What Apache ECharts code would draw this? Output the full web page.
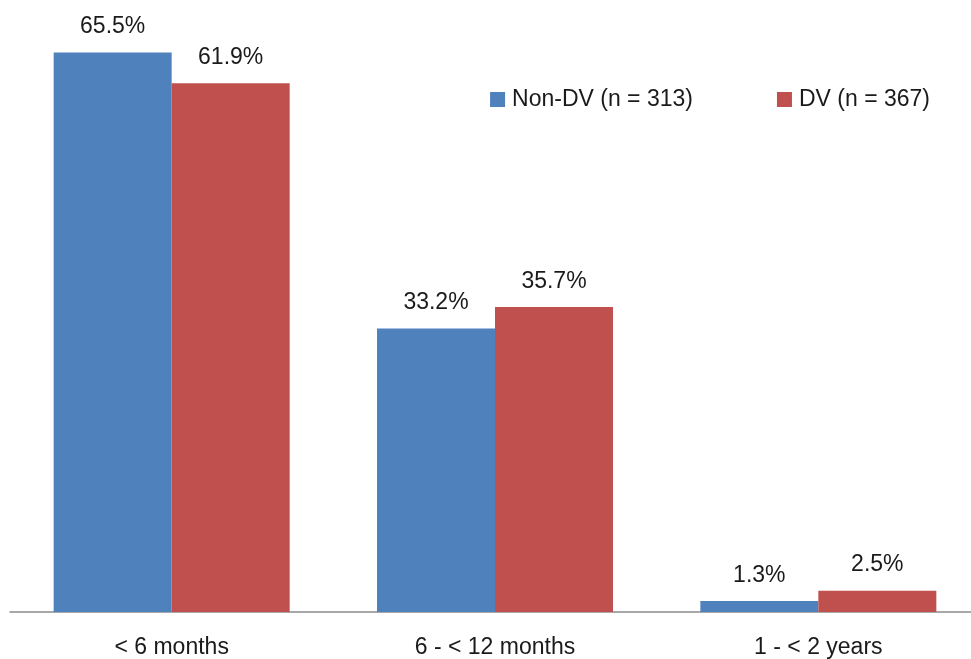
<!DOCTYPE html>
<html><head><meta charset="utf-8">
<script src="https://cdn.jsdelivr.net/npm/echarts@6/dist/echarts.min.js"></script>
<style>html,body{margin:0;padding:0;background:#fff}#c{width:971px;height:659px}</style>
</head><body><div id="c"></div>
<script>
const categories = ['< 6 months', '6 - < 12 months', '1 - < 2 years'];
const nonDV = [65.5, 33.2, 1.3];
const dv = [61.9, 35.7, 2.5];
const seriesNames = ['Non-DV (n = 313)', 'DV (n = 367)'];

const FONT = 'Liberation Sans';
const chart = echarts.init(document.getElementById('c'));
const lbl = {show: true, position: 'top', distance: 14, color: '#1a1a1a', fontFamily: FONT, fontSize: 23,
  formatter: p => p.value.toFixed(1) + '%'};
chart.setOption({
  animation: false,
  textStyle: {fontFamily: FONT},
  legend: {
    data: seriesNames, right: 36, top: 83, itemWidth: 15, itemHeight: 15, itemGap: 84,
    icon: 'rect', textStyle: {fontSize: 23, color: '#1a1a1a', fontFamily: FONT, padding: [0,0,0,2]}
  },
  grid: {left: 10, width: 970, top: 14, bottom: 47, outerBoundsMode: 'none', containLabel: false},
  xAxis: {
    type: 'category', data: categories,
    axisLine: {lineStyle: {color: '#8c8c8c', width: 1.5}},
    axisTick: {show: false},
    axisLabel: {fontSize: 23, color: '#1a1a1a', fontFamily: FONT, margin: 24}
  },
  yAxis: {type: 'value', min: 0, max: 70, show: false, splitLine: {show: false}},
  series: [
    {name: seriesNames[0], type: 'bar', data: nonDV, barWidth: 118, barGap: '0%',
     itemStyle: {color: '#4F81BD'}, label: lbl},
    {name: seriesNames[1], type: 'bar', data: dv, barWidth: 118, barGap: '0%',
     itemStyle: {color: '#C0504D'}, label: lbl}
  ]
});
</script></body></html>
